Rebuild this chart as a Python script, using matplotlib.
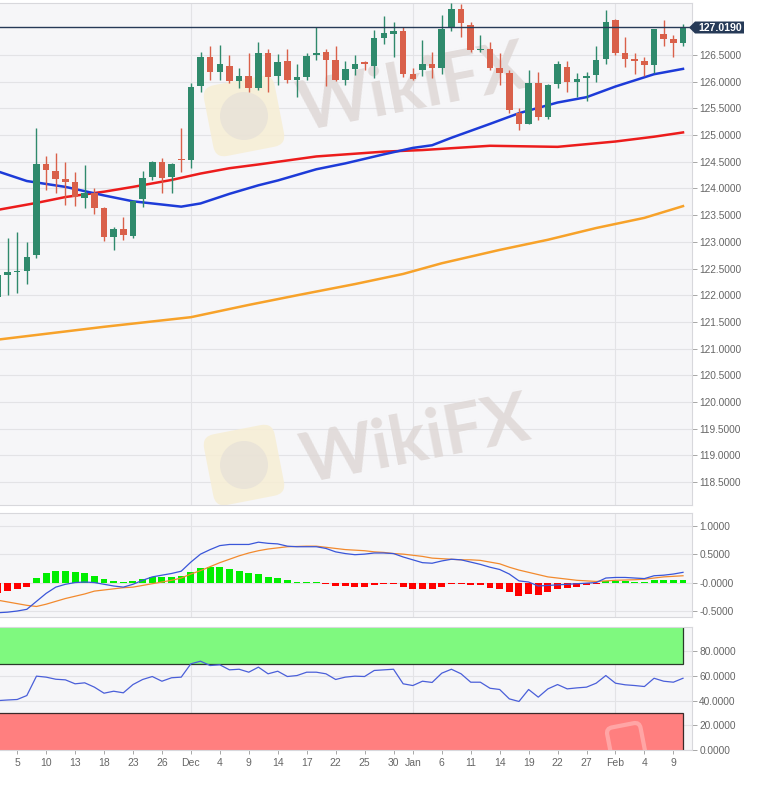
import numpy as np
import pandas as pd
import matplotlib
matplotlib.use('Agg')
import matplotlib.pyplot as plt
from matplotlib.patches import Rectangle, Polygon, FancyBboxPatch, Circle
from matplotlib.transforms import Affine2D, IdentityTransform

plt.rcParams['font.family'] = ['Liberation Sans', 'DejaVu Sans']

# daily candles, weekdays 3 Nov 2020 .. 10 Feb 2021
dates = pd.bdate_range('2020-11-03', '2021-02-10')
opens = [121.97, 122.38, 122.43, 122.46, 122.75, 124.46, 124.33, 124.17, 124.12, 123.83,
         123.92, 123.63, 123.10, 123.25, 123.11, 123.80, 124.21, 124.50, 124.21, 124.56,
         124.53, 125.92, 126.47, 126.19, 126.29, 126.02, 126.11, 125.89, 126.53, 126.11,
         126.38, 126.03, 126.09, 126.50, 126.56, 126.41, 126.04, 126.23, 126.36, 126.29,
         126.81, 126.89, 126.94, 126.14, 126.22, 126.34, 126.25, 127.00, 127.37, 127.06,
         126.59, 126.62, 126.26, 126.16, 125.41, 125.21, 125.97, 125.33, 125.95, 126.28,
         126.00, 126.06, 126.13, 126.42, 127.16, 126.54, 126.42, 126.38, 126.31, 126.89,
         126.80, 126.72]
highs = [122.40, 123.07, 123.18, 122.99, 125.13, 124.61, 124.67, 124.50, 124.30, 124.44,
         124.00, 123.65, 123.28, 123.46, 123.78, 124.33, 124.52, 124.58, 124.47, 125.13,
         125.97, 126.55, 126.67, 126.69, 126.50, 126.25, 126.53, 126.75, 126.61, 126.52,
         126.61, 126.34, 126.53, 127.02, 126.62, 126.67, 126.39, 126.50, 126.38, 126.96,
         127.23, 127.12, 127.02, 126.25, 126.79, 126.56, 127.25, 127.47, 127.46, 127.12,
         126.87, 126.75, 126.53, 126.22, 125.50, 126.21, 126.19, 125.95, 126.39, 126.38,
         126.16, 126.19, 126.66, 127.34, 127.17, 126.84, 126.53, 126.46, 126.98, 127.15,
         126.87, 127.08]
lows = [121.93, 122.01, 122.04, 122.21, 122.69, 123.98, 123.92, 123.69, 123.67, 123.63,
        123.53, 123.02, 122.85, 123.04, 123.07, 123.65, 124.16, 123.92, 123.91, 124.30,
        124.38, 125.80, 126.04, 126.04, 125.97, 125.88, 125.80, 125.84, 125.80, 125.94,
        125.97, 125.72, 126.04, 126.41, 125.92, 126.01, 125.94, 126.13, 126.21, 126.06,
        126.71, 126.47, 126.09, 126.03, 126.11, 126.06, 126.14, 126.94, 126.83, 126.56,
        126.56, 126.22, 125.94, 125.41, 125.10, 125.21, 125.28, 125.31, 125.89, 125.81,
        125.71, 125.64, 126.00, 126.34, 126.50, 126.28, 126.14, 126.11, 126.17, 126.66,
        126.46, 126.66]
closes = [122.38, 122.44, 122.45, 122.71, 124.46, 124.35, 124.18, 124.13, 123.85, 123.91,
          123.63, 123.10, 123.25, 123.12, 123.77, 124.20, 124.50, 124.19, 124.46, 124.53,
          125.91, 126.47, 126.19, 126.33, 126.01, 126.11, 125.89, 126.53, 126.08, 126.37,
          126.03, 126.09, 126.48, 126.53, 126.41, 126.03, 126.23, 126.33, 126.34, 126.81,
          126.91, 126.94, 126.14, 126.05, 126.34, 126.26, 126.98, 127.37, 127.09, 126.59,
          126.62, 126.25, 126.17, 125.47, 125.21, 125.97, 125.33, 125.94, 126.33, 126.00,
          126.05, 126.11, 126.41, 127.11, 126.54, 126.42, 126.38, 126.31, 126.98, 126.80,
          126.72, 127.019]
last_price = 127.019

# moving averages, read at candle positions (position 0 = 4 Nov)
ma_blue_pos = [-1, 2, 6, 10, 13, 18, 20, 23, 26, 28, 32, 35, 39, 42, 44, 46, 50, 53, 57, 60, 63, 67, 70]
ma_blue = [124.32, 124.14, 124.03, 123.87, 123.76, 123.66, 123.72, 123.90, 124.06, 124.15, 124.36,
           124.47, 124.64, 124.76, 124.81, 124.95, 125.21, 125.41, 125.61, 125.71, 125.91, 126.14, 126.24]
ma_red_pos = [-1, 3, 6, 10, 13, 17, 20, 23, 26, 32, 39, 43, 50, 57, 63, 67, 70]
ma_red = [123.60, 123.73, 123.84, 123.94, 124.03, 124.16, 124.28, 124.38, 124.45, 124.60, 124.69,
          124.72, 124.80, 124.78, 124.88, 124.97, 125.05]
ma_orange_pos = [-1, 10, 19, 25, 30, 36, 41, 45, 51, 56, 61, 66, 70]
ma_orange = [121.17, 121.41, 121.59, 121.82, 122.00, 122.21, 122.40, 122.60, 122.85, 123.04,
             123.26, 123.45, 123.67]

macd_hist = [-0.19, -0.14, -0.11, -0.07, 0.075, 0.16, 0.20, 0.20, 0.18, 0.16,
             0.12, 0.065, 0.035, 0.012, 0.02, 0.06, 0.09, 0.10, 0.10, 0.11,
             0.19, 0.26, 0.28, 0.27, 0.23, 0.20, 0.16, 0.15, 0.10, 0.08,
             0.04, 0.01, 0.005, 0.003, -0.005, -0.06, -0.065, -0.07, -0.07, -0.05,
             -0.03, -0.02, -0.07, -0.12, -0.12, -0.12, -0.07, -0.01, -0.01, -0.04,
             -0.05, -0.09, -0.12, -0.17, -0.23, -0.20, -0.22, -0.17, -0.11, -0.10,
             -0.07, -0.05, -0.02, 0.035, 0.035, 0.03, 0.012, 0.012, 0.04, 0.04,
             0.04, 0.04]
macd_line = [-0.53, -0.52, -0.50, -0.47, -0.33, -0.19, -0.08, -0.03, 0.00, 0.01,
             0.00, -0.03, -0.06, -0.08, -0.03, 0.04, 0.10, 0.13, 0.16, 0.20,
             0.36, 0.50, 0.58, 0.65, 0.67, 0.67, 0.67, 0.71, 0.69, 0.68,
             0.64, 0.63, 0.63, 0.63, 0.60, 0.54, 0.51, 0.49, 0.50, 0.52,
             0.52, 0.51, 0.45, 0.40, 0.35, 0.34, 0.38, 0.41, 0.40, 0.36,
             0.32, 0.27, 0.23, 0.15, 0.03, 0.01, -0.06, -0.05, -0.04, -0.03,
             -0.02, -0.01, 0.00, 0.08, 0.09, 0.09, 0.08, 0.07, 0.12, 0.13,
             0.15, 0.18]
macd_signal = [-0.31, -0.34, -0.37, -0.40, -0.42, -0.38, -0.33, -0.28, -0.24, -0.20,
               -0.15, -0.13, -0.11, -0.09, -0.08, -0.05, -0.02, 0.01, 0.04, 0.08,
               0.15, 0.21, 0.28, 0.35, 0.41, 0.47, 0.52, 0.56, 0.59, 0.61,
               0.63, 0.635, 0.64, 0.64, 0.62, 0.60, 0.58, 0.57, 0.56, 0.54,
               0.53, 0.51, 0.50, 0.48, 0.46, 0.43, 0.42, 0.41, 0.40, 0.40,
               0.39, 0.36, 0.33, 0.27, 0.22, 0.18, 0.14, 0.10, 0.08, 0.06,
               0.04, 0.03, 0.02, 0.03, 0.04, 0.045, 0.05, 0.06, 0.08, 0.10,
               0.11, 0.12]
rsi = [40.0, 40.5, 40.9, 44.1, 59.8, 59.0, 57.3, 56.8, 53.6, 54.4,
       50.9, 46.0, 47.6, 46.3, 53.0, 57.1, 59.5, 55.7, 58.5, 59.0,
       69.8, 71.9, 68.4, 69.0, 64.9, 65.4, 63.0, 67.1, 61.7, 63.8,
       59.5, 60.3, 63.0, 63.0, 61.7, 57.1, 59.0, 59.8, 59.5, 64.4,
       64.9, 65.4, 53.6, 52.2, 55.7, 54.7, 62.2, 65.4, 61.7, 54.9,
       54.9, 50.0, 49.0, 41.4, 39.3, 49.0, 42.8, 49.5, 53.0, 49.5,
       50.3, 50.9, 54.1, 60.3, 54.1, 52.8, 52.2, 51.4, 58.1, 55.7,
       54.9, 58.1]

tick_pos = [1, 4, 7, 10, 13, 16, 19, 22, 25, 28, 31, 34, 37, 40, 42, 45, 48, 51, 54, 57, 60, 63, 66, 69]
tick_labels = ['5', '10', '13', '18', '23', '26', 'Dec', '4', '9', '14', '17', '22', '25', '30',
               'Jan', '6', '11', '14', '19', '22', '27', 'Feb', '4', '9']
month_pos = [19, 42, 63]

price_ticks = [118.5, 119.0, 119.5, 120.0, 120.5, 121.0, 121.5, 122.0, 122.5, 123.0,
               123.5, 124.0, 124.5, 125.0, 125.5, 126.0, 126.5]
macd_ticks = [-0.5, 0.0, 0.5, 1.0]
macd_tick_labels = ['-0.5000', '-0.0000', '0.5000', '1.0000']
rsi_ticks = [0, 20, 40, 60, 80]

x = np.arange(len(dates)) - 1

GREEN = '#2f8a6c'
RED = '#d9604a'
BG = '#f6f6f8'
GRID = '#e3e3e6'
TXT = '#666666'
NAVY = '#263a57'
W, H = 769, 787

fig = plt.figure(figsize=(7.69, 7.87), dpi=100)
ax = fig.add_axes([0, 0.35832, 0.89922, 0.63850])
ax2 = fig.add_axes([0, 0.21601, 0.89922, 0.13215])
ax3 = fig.add_axes([0, 0.04701, 0.89922, 0.15692])

for a in (ax, ax2, ax3):
    a.set_facecolor(BG)
    a.set_xlim(-0.78, 70.88)
    for s in a.spines.values():
        s.set_color('#d8d8dc')
        s.set_linewidth(0.8)
    a.spines['left'].set_visible(False)
    a.yaxis.tick_right()
    a.tick_params(axis='y', direction='out', length=3.5, width=0.6, color='#999999',
                  labelsize=7.3, labelcolor=TXT, pad=2)
    a.tick_params(axis='x', bottom=False, labelbottom=False)
    for m in month_pos:
        a.axvline(m, color=GRID, lw=0.8, zorder=0.3)


def watermark(a, cx, cy, lx, ly):
    # cx, cy: centre of the word, lx, ly: centre of the logo, in pixels from top-left
    rot = Affine2D().rotate_deg_around(lx, H - ly, 11) + IdentityTransform()
    box = FancyBboxPatch((lx - 30, H - ly - 30), 60, 60, boxstyle='round,pad=6,rounding_size=12',
                         fc='#f7eed4', ec='none', alpha=0.85, zorder=0.4, transform=rot)
    a.add_artist(box)
    a.add_artist(Circle((lx, H - ly), 24, fc='#e2ddd8', ec='none', alpha=0.6, zorder=0.42,
                        transform=IdentityTransform()))
    a.text(cx / W, 1 - cy / H, 'WikiFX', transform=fig.transFigure, fontsize=50,
           fontweight='bold', family=['Lato', 'DejaVu Sans'], color='#ddd6d4', alpha=0.8,
           rotation=11, rotation_mode='anchor', ha='center', va='center', zorder=0.45)


# ---- price panel
ax.set_ylim(118.073, 127.483)
ax.set_yticks(price_ticks)
ax.set_yticklabels(['%.4f' % v for v in price_ticks])
for v in price_ticks:
    ax.axhline(v, color=GRID, lw=0.8, zorder=0.2)

watermark(ax, 412, 90, 244, 116)
watermark(ax, 415, 442, 244, 465)

ax.plot(ma_orange_pos, ma_orange, color='#f7a22a', lw=1.8, zorder=2)
ax.plot(ma_red_pos, ma_red, color='#ec1c1c', lw=1.8, zorder=2)
ax.plot(ma_blue_pos, ma_blue, color='#1d3bd8', lw=1.8, zorder=2)

for xi, o, h, l, c in zip(x, opens, highs, lows, closes):
    col = GREEN if c >= o else RED
    ax.vlines(xi, l, h, color=col, lw=1.0, zorder=3)
    ax.bar(xi, max(abs(c - o), 0.025), bottom=min(o, c), width=0.68, color=col, zorder=3.5)

ax.axhline(last_price, color=NAVY, lw=1.0, zorder=4)

# price tag on the right
tag = Polygon([(689, H - 27.5), (695, H - 21.5), (744, H - 21.5), (744, H - 33.5),
               (695, H - 33.5)], closed=True, transform=IdentityTransform(), fc=NAVY, ec='none')
fig.patches.append(tag)
fig.text(720 / W, 1 - 27.8 / H, '%.4f' % last_price, color='white', fontsize=7.6,
         fontweight='bold', ha='center', va='center')

# ---- MACD panel
ax2.set_ylim(-0.605, 1.223)
ax2.set_yticks(macd_ticks)
ax2.set_yticklabels(macd_tick_labels)
for v in macd_ticks:
    ax2.axhline(v, color=GRID, lw=0.8, zorder=0.2)
hist_cols = ['#00ee00' if h >= 0 else '#ff0000' for h in macd_hist]
hist_draw = [np.sign(h) * max(abs(h), 0.018) for h in macd_hist]
ax2.bar(x, hist_draw, width=0.72, color=hist_cols, zorder=2)
ax2.plot(x, macd_signal, color='#f28a2e', lw=0.9, zorder=3)
ax2.plot(x, macd_line, color='#3a56d9', lw=0.9, zorder=3)

# ---- RSI panel
ax3.set_ylim(0, 100)
ax3.set_yticks(rsi_ticks)
ax3.set_yticklabels(['%.4f' % v for v in rsi_ticks])
for v in rsi_ticks:
    ax3.axhline(v, color=GRID, lw=0.8, zorder=0.2)
ax3.add_patch(Rectangle((-2, 70), 72, 31, fc='#7ff97f', ec='#2a3a2a', lw=0.9, zorder=1))
ax3.add_patch(Rectangle((-2, -1), 72, 31, fc='#ff7f7f', ec='#3a2a2a', lw=0.9, zorder=1))
ax3.plot(x, rsi, color='#4a5fd9', lw=0.9, zorder=3)
# faint logo of the third watermark
rot3 = Affine2D().rotate_deg_around(626, H - 742, 11) + IdentityTransform()
ax3.add_artist(FancyBboxPatch((612, H - 756), 28, 28, boxstyle='round,pad=3,rounding_size=6',
                              fc='none', ec='#ffffff', lw=3, alpha=0.3, zorder=1.5,
                              transform=rot3))

ax3.tick_params(axis='x', bottom=True, labelbottom=True, direction='out', length=3,
                width=0.6, color='#999999', labelsize=7.5, labelcolor=TXT, pad=3)
ax3.set_xticks(tick_pos)
ax3.set_xticklabels(tick_labels)

fig.savefig('out.png', dpi=100)
